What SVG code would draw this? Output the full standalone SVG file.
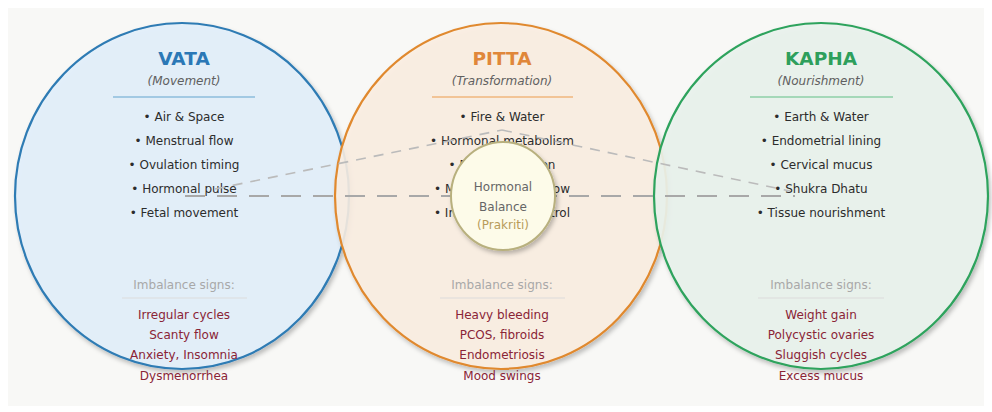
<svg xmlns="http://www.w3.org/2000/svg" width="992" height="412" viewBox="0 0 992 412">
<defs>
<filter id="sh" x="-10%" y="-10%" width="120%" height="120%">
<feDropShadow dx="2" dy="3" stdDeviation="2" flood-color="#000" flood-opacity="0.25"/>
</filter>
</defs>
<style>
text{font-family:"DejaVu Sans","Liberation Sans",sans-serif;text-anchor:middle}
.title{font-size:18.5px;font-weight:bold}
.sub{font-size:12px;font-style:italic;fill:#606060}
.item{font-size:12px;fill:#2c2c2c}
.imb{font-size:12px;fill:#a8a8a8}
.sign{font-size:12px;fill:#8a2436}
.idiv{stroke:#dcdcdc;stroke-width:1.2}
.dosha{stroke-width:2.2;filter:url(#sh)}
.hline{stroke:#a8a8a8;stroke-width:2;stroke-dasharray:20 12;fill:none}
.dline{stroke:#bbb;stroke-width:1.6;stroke-dasharray:10 8;fill:none}
</style>
<rect x="0" y="0" width="992" height="412" fill="#ffffff"/>
<rect x="8" y="8" width="976" height="398" fill="#f8f8f6"/>

<g id="vata">
<ellipse class="dosha" cx="182" cy="196" rx="167" ry="173" fill="#e3f0fb" fill-opacity="0.92" stroke="#2f7bb4"/>
<text class="title" x="184" y="65" fill="#2b78b6">VATA</text>
<text class="sub" x="184" y="85">(Movement)</text>
<line x1="113" y1="97" x2="255" y2="97" stroke="#8dbcdc" stroke-width="1.5"/>
<text class="item" x="184" y="121">• Air &amp; Space</text>
<text class="item" x="184" y="145">• Menstrual flow</text>
<text class="item" x="184" y="169">• Ovulation timing</text>
<text class="item" x="184" y="193">• Hormonal pulse</text>
<text class="item" x="184" y="217">• Fetal movement</text>
<text class="imb" x="184" y="289">Imbalance signs:</text>
<line class="idiv" x1="122" y1="298" x2="247" y2="298"/>
<text class="sign" x="184" y="319">Irregular cycles</text>
<text class="sign" x="184" y="339">Scanty flow</text>
<text class="sign" x="184" y="359">Anxiety, Insomnia</text>
<text class="sign" x="184" y="380">Dysmenorrhea</text>
</g>

<g id="pitta">
<ellipse class="dosha" cx="501" cy="196" rx="166" ry="173" fill="#fcefe2" fill-opacity="0.88" stroke="#e0892f"/>
<text class="title" x="502" y="65" fill="#e0873a">PITTA</text>
<text class="sub" x="502" y="85">(Transformation)</text>
<line x1="432" y1="97" x2="573" y2="97" stroke="#f0b67c" stroke-width="1.5"/>
<text class="item" x="502" y="121">• Fire &amp; Water</text>
<text class="item" x="502" y="145">• Hormonal metabolism</text>
<text class="item" x="502" y="169">• Blood formation</text>
<text class="item" x="502" y="193">• Menstrual blood flow</text>
<text class="item" x="502" y="217">• Inflammation control</text>
<text class="imb" x="502" y="289">Imbalance signs:</text>
<line class="idiv" x1="440" y1="298" x2="565" y2="298"/>
<text class="sign" x="502" y="319">Heavy bleeding</text>
<text class="sign" x="502" y="339">PCOS, fibroids</text>
<text class="sign" x="502" y="359">Endometriosis</text>
<text class="sign" x="502" y="380">Mood swings</text>
</g>

<g id="kapha">
<ellipse class="dosha" cx="821" cy="196" rx="167" ry="173" fill="#eaf3ed" fill-opacity="0.9" stroke="#2ea35d"/>
<text class="title" x="821" y="65" fill="#2e9f5c">KAPHA</text>
<text class="sub" x="821" y="85">(Nourishment)</text>
<line x1="750" y1="97" x2="893" y2="97" stroke="#8ecfa7" stroke-width="1.5"/>
<text class="item" x="821" y="121">• Earth &amp; Water</text>
<text class="item" x="821" y="145">• Endometrial lining</text>
<text class="item" x="821" y="169">• Cervical mucus</text>
<text class="item" x="821" y="193">• Shukra Dhatu</text>
<text class="item" x="821" y="217">• Tissue nourishment</text>
<text class="imb" x="821" y="289">Imbalance signs:</text>
<line class="idiv" x1="758" y1="298" x2="884" y2="298"/>
<text class="sign" x="821" y="319">Weight gain</text>
<text class="sign" x="821" y="339">Polycystic ovaries</text>
<text class="sign" x="821" y="359">Sluggish cycles</text>
<text class="sign" x="821" y="380">Excess mucus</text>
</g>

<g id="connectors">
<line class="hline" x1="185" y1="196" x2="795" y2="196"/>
<line class="dline" x1="215" y1="189" x2="502" y2="130"/>
<line class="dline" x1="502" y1="130" x2="790" y2="191"/>
</g>

<g id="balance">
<ellipse cx="503" cy="196" rx="52" ry="54" fill="#fdfbe9" stroke="#b8b07e" stroke-width="2" filter="url(#sh)"/>
<text x="503" y="191" style="font-size:12px;fill:#666">Hormonal</text>
<text x="503" y="211" style="font-size:12px;fill:#666">Balance</text>
<text x="503" y="229" style="font-size:12px;fill:#b89c5a">(Prakriti)</text>
</g>
</svg>
